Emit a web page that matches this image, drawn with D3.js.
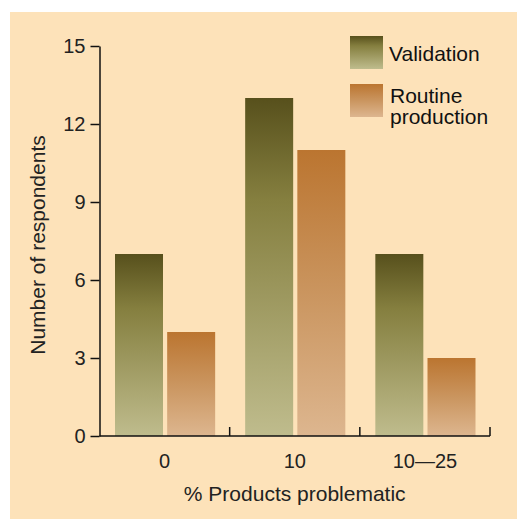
<!DOCTYPE html>
<html>
<head>
<meta charset="utf-8">
<script src="https://cdn.jsdelivr.net/npm/d3@7"></script>
<style>
  html, body { margin: 0; padding: 0; background: #fff; }
  svg { display: block; font-family: "Liberation Sans", Arial, sans-serif; }
  .axis text { fill: #222; font-size: 20px; }
  .axis path, .axis line { stroke: #111; stroke-width: 1.5; }
</style>
</head>
<body>
<div id="chart"></div>
<script>
const categories = ['0', '10', '10\u201425'];
const seriesNames = ['Validation', 'Routine production'];
const validation = [7, 13, 7];
const routine = [4, 11, 3];
const yTicks = [0, 3, 6, 9, 12, 15];

const width = 517, height = 519;
const svg = d3.select('#chart').append('svg')
  .attr('width', width).attr('height', height);

// gradients, one per series
const defs = svg.append('defs');
const grads = [
  { id: 'g-val', stops: [[0, '#57501c'], [0.3, '#857f3f'], [1, '#bfbc8d']] },
  { id: 'g-rout', stops: [[0, '#bb7530'], [0.5, '#ca955f'], [1, '#ddb68f']] }
];
grads.forEach(g => {
  const lg = defs.append('linearGradient').attr('id', g.id)
    .attr('x1', 0).attr('y1', 0).attr('x2', 0).attr('y2', 1);
  g.stops.forEach(s => lg.append('stop').attr('offset', s[0]).attr('stop-color', s[1]));
});
const fills = ['url(#g-val)', 'url(#g-rout)'];

svg.append('rect').attr('x', 10).attr('y', 12)
  .attr('width', width - 10).attr('height', height - 12)
  .attr('fill', '#fde2b9');

const mLeft = 99.5, mRight = 490, mTop = 46, mBottom = 436;

const x0 = d3.scaleBand().domain(categories).range([mLeft, mRight]).padding(0);
const x1 = d3.scaleBand().domain(seriesNames)
  .range([15.5, x0.bandwidth() - 14.5]).paddingInner(0.08);
const y = d3.scaleLinear().domain([0, 15]).range([mBottom, mTop]);

const data = categories.map((c, i) => ({ cat: c, values: [validation[i], routine[i]] }));

svg.append('g').selectAll('g')
  .data(data).join('g')
  .attr('transform', d => `translate(${x0(d.cat)},0)`)
  .selectAll('rect')
  .data(d => d.values.map((v, j) => ({ key: seriesNames[j], v, j })))
  .join('rect')
  .attr('x', d => x1(d.key))
  .attr('y', d => y(d.v))
  .attr('width', x1.bandwidth())
  .attr('height', d => y(0) - y(d.v))
  .attr('fill', d => fills[d.j]);

// y axis
svg.append('g').attr('class', 'axis')
  .attr('transform', `translate(${mLeft},0)`)
  .call(d3.axisLeft(y).tickValues(yTicks).tickSize(9).tickSizeOuter(0).tickPadding(5));

// x axis: labels centred, ticks at band boundaries
const xAxis = svg.append('g').attr('class', 'axis')
  .attr('transform', `translate(0,${mBottom})`)
  .call(d3.axisBottom(x0).tickSize(0).tickPadding(18));
xAxis.select('.domain').remove();
xAxis.append('line').attr('x1', mLeft).attr('x2', mRight).attr('y1', 0).attr('y2', 0);
xAxis.selectAll('.bound').data(categories).join('line').attr('class', 'bound')
  .attr('x1', d => x0(d) + x0.bandwidth()).attr('x2', d => x0(d) + x0.bandwidth())
  .attr('y1', 0).attr('y2', -9);

svg.append('text')
  .attr('x', (mLeft + mRight) / 2).attr('y', 501)
  .attr('text-anchor', 'middle').attr('fill', '#222').style('font-size', '21px')
  .text('% Products problematic');

svg.append('text')
  .attr('transform', 'translate(45,245) rotate(-90)')
  .attr('text-anchor', 'middle').attr('fill', '#222').style('font-size', '21px')
  .text('Number of respondents');

// legend
const legend = svg.append('g').attr('transform', 'translate(350,36)');
legend.append('rect').attr('width', 33).attr('height', 33).attr('fill', fills[0]);
legend.append('text').attr('x', 39).attr('y', 25).attr('fill', '#111').style('font-size', '21px')
  .text(seriesNames[0]);
legend.append('rect').attr('y', 48).attr('width', 33).attr('height', 33).attr('fill', fills[1]);
const lt = legend.append('text').attr('x', 40).attr('y', 67).attr('fill', '#111').style('font-size', '21px');
lt.append('tspan').attr('x', 40).text('Routine');
lt.append('tspan').attr('x', 40).attr('dy', 21).text('production');
</script>
</body>
</html>
